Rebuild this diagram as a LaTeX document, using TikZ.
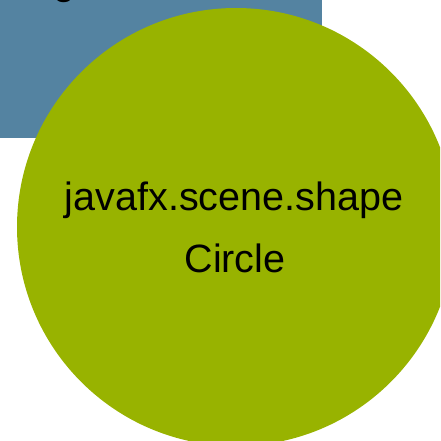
\documentclass[tikz,border=0pt]{standalone}
\usepackage{fontspec}
\setmainfont{Liberation Sans}
\definecolor{boxblue}{RGB}{84,131,161}
\definecolor{circgreen}{RGB}{152,179,0}
\begin{document}
\begin{tikzpicture}[x=1pt,y=-1pt,
  lbl/.style={font=\fontsize{39.5}{47}\selectfont, text=black, inner sep=0pt, anchor=base}]
\useasboundingbox (0,0) rectangle (440,441);
\begin{scope}
\clip (0,0) rectangle (440,441);
\node[fill=boxblue, draw=none, inner sep=0pt, minimum width=322pt, minimum height=138pt, anchor=north west] (box) at (0,0) {};
\node[lbl, anchor=base west] (cut) at (53,-5.4) {g};
\node[circle, fill=circgreen, draw=none, inner sep=0pt, minimum size=438pt] (circ) at (236,227) {};
\node[lbl] (pkg) at (234,210) {javafx.scene.shape};
\node[lbl] (cls) at (235,272) {Circle};
\end{scope}
\end{tikzpicture}
\end{document}
